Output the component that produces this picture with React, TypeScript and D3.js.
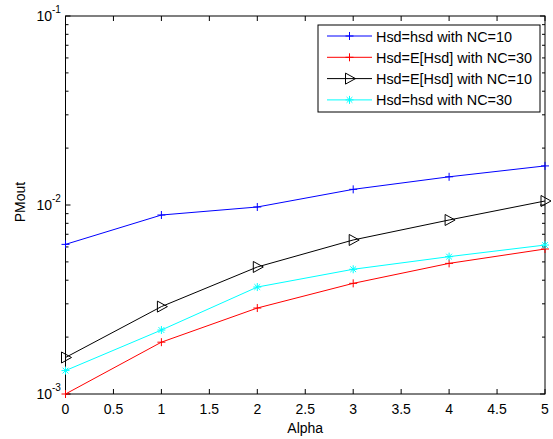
import React from "react";
import * as d3 from "d3";

const alpha = [0, 1, 2, 3, 4, 5];
const hsdNC10 = [0.00619, 0.00885, 0.00976, 0.0121, 0.0141, 0.0161];
const eHsdNC30 = [0.001, 0.00188, 0.00285, 0.00385, 0.00491, 0.00585];
const eHsdNC10 = [0.00156, 0.0029, 0.0047, 0.00653, 0.00833, 0.0105];
const hsdNC30 = [0.00133, 0.00218, 0.00368, 0.00457, 0.00533, 0.00614];
const xTicks = [0, 0.5, 1, 1.5, 2, 2.5, 3, 3.5, 4, 4.5, 5];
const yDecades = [-3, -2, -1];

const seriesList = [
  { name: "Hsd=hsd with NC=10", values: hsdNC10, color: "#0000ff", marker: "plus" },
  { name: "Hsd=E[Hsd] with NC=30", values: eHsdNC30, color: "#ff0000", marker: "plus" },
  { name: "Hsd=E[Hsd] with NC=10", values: eHsdNC10, color: "#000000", marker: "tri" },
  { name: "Hsd=hsd with NC=30", values: hsdNC30, color: "#00ffff", marker: "star" },
];

const W = 553;
const H = 439;
const left = 65.5;
const right = 545;
const top = 16;
const bottom = 394;
const font = "Liberation Sans, Arial, sans-serif";

function Marker({ kind, x, y, color }: { kind: string; x: number; y: number; color: string }) {
  const s = 4;
  if (kind === "plus") {
    return (
      <path d={`M${x - s},${y}H${x + s}M${x},${y - s}V${y + s}`} stroke={color} strokeWidth={1} fill="none" />
    );
  }
  if (kind === "tri") {
    return (
      <path d={`M${x - 4},${y - 5.5}L${x + 6},${y}L${x - 4},${y + 5.5}Z`} stroke={color} strokeWidth={1} fill="none" />
    );
  }
  const d = s * 0.72;
  return (
    <path
      d={`M${x - s},${y}H${x + s}M${x},${y - s}V${y + s}M${x - d},${y - d}L${x + d},${y + d}M${x - d},${y + d}L${x + d},${y - d}`}
      stroke={color}
      strokeWidth={1}
      fill="none"
    />
  );
}

export default function App() {
  const x = d3.scaleLinear().domain([0, 5]).range([left, right]);
  const y = d3.scaleLog().domain([1e-3, 1e-1]).range([bottom, top]);
  const line = d3
    .line<number>()
    .x((_, i) => x(alpha[i]))
    .y((v) => y(v));

  const minor: number[] = [];
  for (const e of [-3, -2]) {
    for (let k = 2; k <= 9; k++) minor.push(k * Math.pow(10, e));
  }

  return (
    <svg
      width={W}
      height={H}
      style={{ position: "absolute", left: 0, top: 0, background: "#fff" }}
      fontFamily={font}
    >
      <rect x={0} y={0} width={W} height={H} fill="#fff" />
      <defs>
        <clipPath id="plotClip">
          <rect x={left - 8} y={top - 8} width={right - left + 16} height={bottom - top + 16} />
        </clipPath>
      </defs>

      {/* frame */}
      <rect x={left} y={top} width={right - left} height={bottom - top} fill="none" stroke="#000" strokeWidth={1} />

      {/* x ticks, bottom and top */}
      {xTicks.map((t) => (
        <g key={"xt" + t}>
          <line x1={x(t)} x2={x(t)} y1={bottom} y2={bottom - 5} stroke="#000" />
          <line x1={x(t)} x2={x(t)} y1={top} y2={top + 5} stroke="#000" />
          <text x={x(t)} y={414} textAnchor="middle" fontSize={14} fill="#000">
            {String(t)}
          </text>
        </g>
      ))}

      {/* y major ticks */}
      {yDecades.map((e) => {
        const yy = y(Math.pow(10, e));
        return (
          <g key={"yd" + e}>
            <line x1={left} x2={left + 5} y1={yy} y2={yy} stroke="#000" />
            <line x1={right} x2={right - 5} y1={yy} y2={yy} stroke="#000" />
            <text x={52} y={yy + 5} textAnchor="end" fontSize={14} fill="#000">
              10
            </text>
            <text x={52} y={yy - 3} textAnchor="start" fontSize={10} fill="#000">
              {String(e)}
            </text>
          </g>
        );
      })}

      {/* y minor ticks */}
      {minor.map((m) => {
        const yy = y(m);
        return (
          <g key={"ym" + m}>
            <line x1={left} x2={left + 3} y1={yy} y2={yy} stroke="#000" />
            <line x1={right} x2={right - 3} y1={yy} y2={yy} stroke="#000" />
          </g>
        );
      })}

      {/* series */}
      <g clipPath="url(#plotClip)">
        {seriesList.map((s) => (
          <g key={s.name}>
            <path d={line(s.values) || ""} fill="none" stroke={s.color} strokeWidth={1} />
            {s.values.map((v, i) => (
              <Marker key={i} kind={s.marker} x={x(alpha[i])} y={y(v)} color={s.color} />
            ))}
          </g>
        ))}
      </g>

      {/* axis labels */}
      <text x={(left + right) / 2} y={433} textAnchor="middle" fontSize={14} fill="#000">
        Alpha
      </text>
      <text
        transform={`translate(24.5,202) rotate(-90)`}
        textAnchor="middle"
        fontSize={14}
        fill="#000"
      >
        PMout
      </text>

      {/* legend */}
      <g>
        <rect x={318} y={25} width={222} height={87} fill="#fff" stroke="#000" strokeWidth={1} />
        {seriesList.map((s, i) => {
          const ly = 36 + i * 21.3;
          return (
            <g key={"lg" + s.name}>
              <line x1={327} x2={372} y1={ly} y2={ly} stroke={s.color} strokeWidth={1} />
              <Marker kind={s.marker} x={349.5} y={ly} color={s.color} />
              <text x={376} y={ly + 5.5} fontSize={14.4} fill="#000">
                {s.name}
              </text>
            </g>
          );
        })}
      </g>
    </svg>
  );
}
